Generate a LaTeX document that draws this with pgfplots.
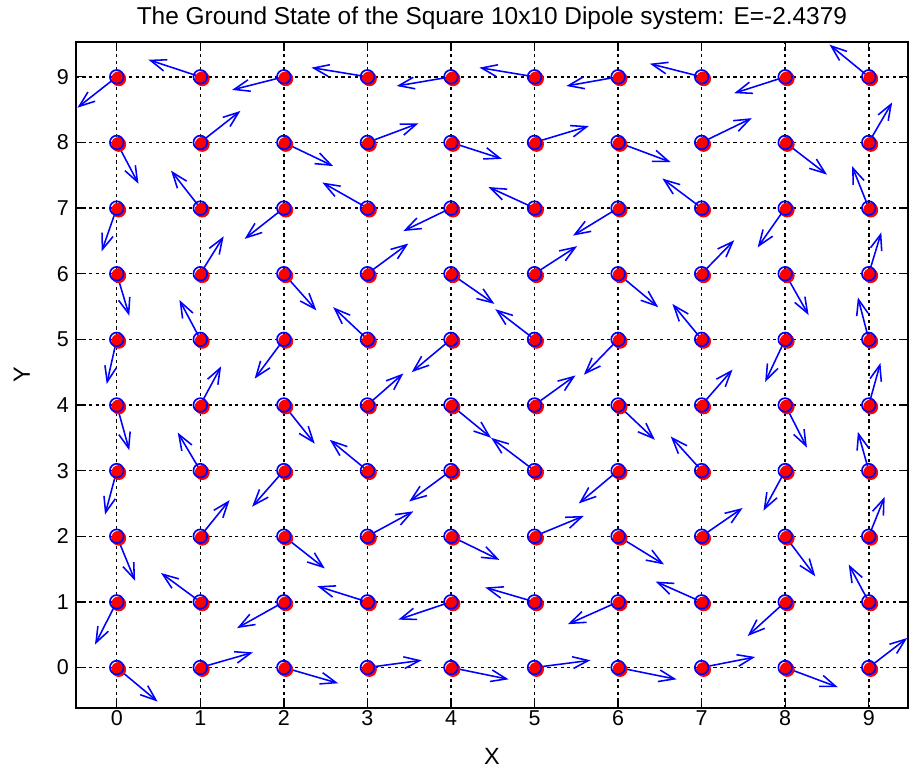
\documentclass[border=0pt]{standalone}
\usepackage{fontspec}
\setmainfont{Liberation Sans}
\usepackage{pgfplots}
\pgfplotsset{compat=1.18}
\usepackage{pgfplotstable}
\usetikzlibrary{arrows.meta}

% dipole directions
\pgfplotstableread{
x y u v
0 0 0.49 -0.52
1 0 0.63 0.23
2 0 0.65 -0.24
3 0 0.65 0.11
4 0 0.69 -0.18
5 0 0.67 0.11
6 0 0.70 -0.18
7 0 0.64 0.16
8 0 0.63 -0.30
9 0 0.46 0.45
0 1 -0.26 -0.65
1 1 -0.47 0.44
2 1 -0.56 -0.40
3 1 -0.60 0.24
4 1 -0.63 -0.27
5 1 -0.59 0.22
6 1 -0.60 -0.34
7 1 -0.55 0.31
8 1 -0.45 -0.52
9 1 -0.24 0.57
0 2 0.22 -0.68
1 2 0.35 0.55
2 2 0.49 -0.49
3 2 0.55 0.38
4 2 0.58 -0.36
5 2 0.59 0.31
6 2 0.55 -0.43
7 2 0.49 0.43
8 2 0.36 -0.61
9 2 0.19 0.60
0 3 -0.14 -0.67
1 3 -0.27 0.58
2 3 -0.38 -0.55
3 3 -0.45 0.47
4 3 -0.50 -0.47
5 3 -0.52 0.50
6 3 -0.47 -0.50
7 3 -0.37 0.52
8 3 -0.26 -0.61
9 3 -0.13 0.59
0 4 0.15 -0.69
1 4 0.25 0.59
2 4 0.37 -0.59
3 4 0.43 0.48
4 4 0.48 -0.50
5 4 0.49 0.45
6 4 0.44 -0.53
7 4 0.37 0.54
8 4 0.26 -0.65
9 4 0.14 0.64
0 5 -0.12 -0.68
1 5 -0.25 0.60
2 5 -0.35 -0.60
3 5 -0.41 0.49
4 5 -0.47 -0.50
5 5 -0.47 0.46
6 5 -0.41 -0.54
7 5 -0.35 0.54
8 5 -0.24 -0.65
9 5 -0.13 0.64
0 6 0.15 -0.64
1 6 0.28 0.57
2 6 0.39 -0.56
3 6 0.49 0.46
4 6 0.52 -0.46
5 6 0.51 0.42
6 6 0.48 -0.51
7 6 0.39 0.51
8 6 0.28 -0.63
9 6 0.15 0.63
0 7 -0.18 -0.66
1 7 -0.35 0.57
2 7 -0.47 -0.47
3 7 -0.54 0.39
4 7 -0.57 -0.35
5 7 -0.55 0.32
6 7 -0.54 -0.42
7 7 -0.47 0.45
8 7 -0.33 -0.60
9 7 -0.20 0.64
0 8 0.26 -0.63
1 8 0.48 0.48
2 8 0.59 -0.36
3 8 0.61 0.29
4 8 0.61 -0.25
5 8 0.65 0.25
6 8 0.63 -0.30
7 8 0.60 0.37
8 8 0.50 -0.49
9 8 0.28 0.61
0 9 -0.47 -0.47
1 9 -0.62 0.26
2 9 -0.62 -0.20
3 9 -0.67 0.14
4 9 -0.65 -0.14
5 9 -0.66 0.14
6 9 -0.62 -0.14
7 9 -0.62 0.20
8 9 -0.61 -0.25
9 9 -0.47 0.49
}\dipoles

\begin{document}
\begin{tikzpicture}
\begin{axis}[
    scale only axis,
    width=426pt,
    height=341pt,
    xmin=-0.49, xmax=9.47,
    ymin=-0.62, ymax=9.53,
    xtick={0,...,9},
    ytick={0,...,9},
    tick align=inside,
    major tick length=4pt,
    tick style={black, line width=0.7pt},
    axis line style={line width=1pt},
    grid=major,
    major grid style={black, line width=0.75pt, dash pattern=on 1.6pt off 1.8pt},
    /pgf/number format/assume math mode=true,
    ticklabel style={font=\fontsize{11}{13}\selectfont},
    xticklabel style={yshift=2.5pt},
    xlabel={X},
    ylabel={Y},
    xlabel style={yshift=-5pt},
    ylabel style={at={(axis description cs:-0.065,0.5)}, anchor=center},
    label style={font=\fontsize{12}{14}\selectfont},
    title={The Ground State of the Square 10x10 Dipole system: E=-2.4379},
    title style={font=\fontsize{12.5}{15}\selectfont, yshift=-3pt},
]
\addplot[only marks, mark=*, mark size=3.6pt, red,
    mark options={xshift=1pt, yshift=-1pt}] table[x=x, y=y] {\dipoles};
\addplot[only marks, mark=o, mark size=3.5pt, blue, line width=0.85pt] table[x=x, y=y] {\dipoles};
\addplot[blue, line width=0.8pt, -{Straight Barb[length=8pt, width=6pt]},
    quiver={u=\thisrow{u}, v=\thisrow{v}}] table[x=x, y=y] {\dipoles};
\end{axis}
\path (current axis.south west) ++(-38.8pt,0pt);
\end{tikzpicture}
\end{document}
